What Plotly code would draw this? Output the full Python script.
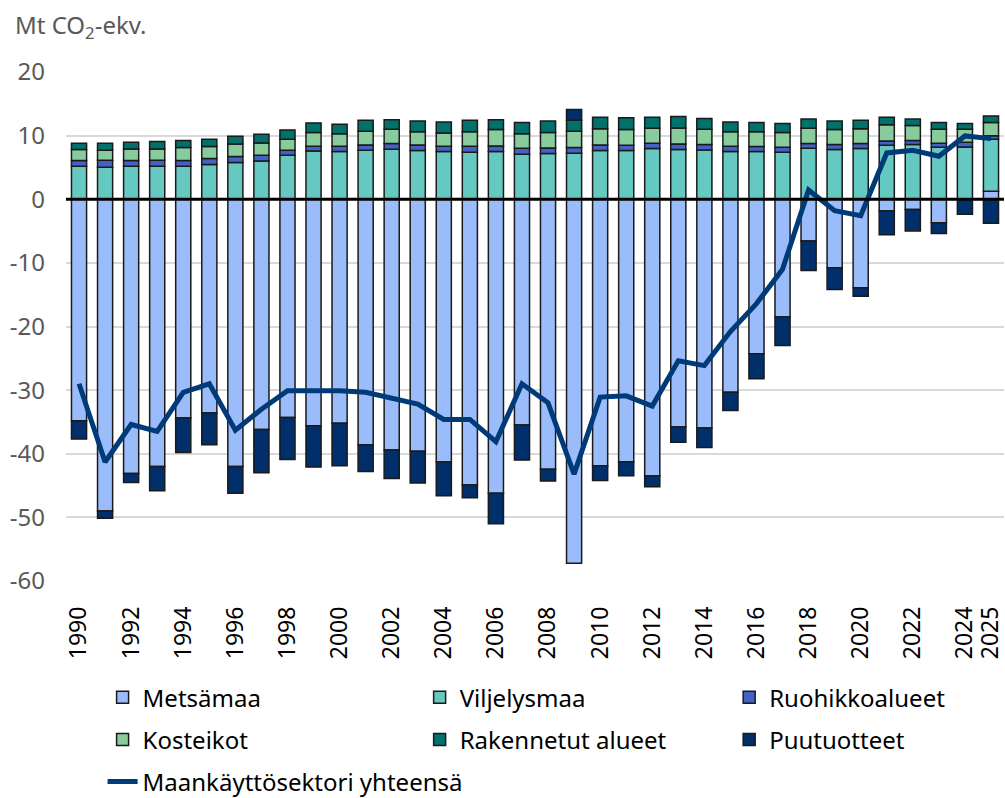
import plotly.graph_objects as go

years = list(range(1990, 2026))

metsamaa = [-34.8, -49.0, -43.1, -42.0, -34.4, -33.6, -42.0, -36.2, -34.3, -35.6,
            -35.2, -38.6, -39.4, -39.6, -41.3, -44.9, -46.2, -35.5, -42.45, -57.2,
            -41.9, -41.25, -43.5, -35.8, -35.95, -30.35, -24.3, -18.5, -6.56, -10.75,
            -13.9, -1.79, -1.63, -3.68, 0.0, 1.26]
viljelysmaa = [5.19, 5.03, 5.19, 5.19, 5.19, 5.45, 5.76, 6.02, 6.91, 7.6,
               7.49, 7.7, 7.86, 7.65, 7.49, 7.39, 7.49, 7.07, 7.18, 7.23,
               7.65, 7.65, 7.96, 7.8, 7.75, 7.49, 7.49, 7.39, 8.0, 7.8,
               7.96, 8.49, 8.59, 8.17, 8.22, 8.17]
ruohikko = [0.89, 1.10, 0.89, 0.94, 0.89, 0.94, 0.94, 0.89, 0.79, 0.73,
            0.84, 0.84, 0.89, 0.89, 0.84, 0.94, 0.89, 0.93, 0.89, 0.89,
            0.89, 0.84, 0.84, 0.90, 0.84, 0.84, 0.79, 0.78, 0.75, 0.79,
            0.79, 0.68, 0.63, 0.63, 0.74, 0.57]
kosteikot = [1.72, 1.57, 1.83, 1.78, 2.04, 1.89, 2.0, 1.94, 1.73, 2.17,
             1.97, 2.16, 2.25, 2.06, 2.07, 2.27, 2.57, 2.3, 2.43, 2.58,
             2.56, 2.46, 2.36, 2.5, 2.41, 2.27, 2.32, 2.33, 2.41, 2.36,
             2.35, 2.53, 2.38, 2.2, 2.04, 2.05]
rakennetut = [1.0, 1.1, 1.05, 1.15, 1.1, 1.15, 1.2, 1.35, 1.47, 1.5,
              1.5, 1.7, 1.5, 1.7, 1.75, 1.8, 1.55, 1.75, 1.8, 1.7,
              1.8, 1.85, 1.74, 1.8, 1.7, 1.55, 1.45, 1.4, 1.44, 1.35,
              1.3, 1.2, 1.0, 1.05, 0.9, 1.05]
puutuotteet = [-2.9, -1.15, -1.4, -3.8, -5.4, -5.0, -4.2, -6.8, -6.6, -6.5,
               -6.7, -4.2, -4.5, -5.0, -5.3, -2.0, -4.8, -5.5, -1.85, 1.7,
               -2.3, -2.2, -1.7, -2.4, -3.05, -2.85, -3.9, -4.5, -4.65, -3.45,
               -1.35, -3.8, -3.35, -1.7, -2.37, -3.78]
yhteensa = [-29.0, -41.3, -35.4, -36.5, -30.35, -29.0, -36.3, -33.0, -30.1, -30.1,
            -30.1, -30.35, -31.2, -32.2, -34.6, -34.6, -38.1, -29.0, -32.0, -43.2,
            -31.1, -30.9, -32.5, -25.4, -26.15, -20.8, -16.4, -11.0, 1.45, -1.79,
            -2.58, 7.28, 7.7, 6.76, 9.95, 9.53]

x_tick_vals = list(range(1990, 2025, 2)) + [2025]
x_tick_text = [str(v) for v in x_tick_vals]
y_tick_vals = [20, 10, 0, -10, -20, -30, -40, -50, -60]
y_tick_text = ["20", "10", "0", "-10", "-20", "-30", "-40", "-50", "-60"]

FONT = "Noto Sans"
outline = dict(color="#1a1a1a", width=1.5)

fig = go.Figure()
bar_specs = [
    ("Metsämaa", metsamaa, "#9bbcfb", "legend"),
    ("Viljelysmaa", viljelysmaa, "#66c9c1", "legend2"),
    ("Ruohikkoalueet", ruohikko, "#4462c6", "legend3"),
    ("Kosteikot", kosteikot, "#88cc9e", "legend"),
    ("Rakennetut alueet", rakennetut, "#00716b", "legend2"),
    ("Puutuotteet", puutuotteet, "#002f6c", "legend3"),
]
for name, vals, col, lg in bar_specs:
    fig.add_trace(go.Bar(x=years, y=vals, name=name, legend=lg, legendgroup=name,
                         marker=dict(color=col, line=outline)))

fig.add_trace(go.Scatter(x=years, y=yhteensa, name="Maankäyttösektori yhteensä",
                         mode="lines", legend="legend", legendgroup="line",
                         line=dict(color="#003a78", width=5)))

legend_common = dict(orientation="v", yref="container", yanchor="top", y=0.154,
                     xanchor="left",
                     font=dict(family=FONT, size=24, color="#000000"),
                     bgcolor="rgba(0,0,0,0)", traceorder="grouped", tracegroupgap=8,
                     itemwidth=30)

fig.update_layout(
    width=1005, height=798,
    margin=dict(l=66, r=1, t=72, b=217),
    paper_bgcolor="white", plot_bgcolor="white",
    barmode="relative", bargap=0.42,
    font=dict(family=FONT, size=24, color="#595959"),
    legend=dict(legend_common, x=0.039),
    legend2=dict(legend_common, x=0.377),
    legend3=dict(legend_common, x=0.707),
    xaxis=dict(range=[1989.5, 2025.5], tickmode="array", tickvals=x_tick_vals,
               ticktext=x_tick_text, tickangle=-90, showgrid=False, zeroline=False,
               ticks="", ticklabelstandoff=20, ticklabeloverflow="allow",
               tickfont=dict(family=FONT, size=23, color="#000000")),
    yaxis=dict(range=[-60, 20], tickmode="array", tickvals=y_tick_vals,
               ticktext=y_tick_text, showgrid=True, gridcolor="#d9d9d9",
               gridwidth=2, zeroline=False, ticks="", ticklabelstandoff=20,
               tickfont=dict(family=FONT, size=24, color="#595959")),
    showlegend=True,
)

fig.add_shape(type="line", xref="paper", yref="y", x0=0, x1=1, y0=0, y1=0,
              line=dict(color="#000000", width=3), layer="above")

fig.add_annotation(text="Mt CO<sub>2</sub>-ekv.", xref="paper", yref="paper",
                   x=-0.057, y=1.09, xanchor="left", yanchor="middle", showarrow=False,
                   font=dict(family=FONT, size=24, color="#595959"))

fig.write_html("out.html", config={"displayModeBar": False},
               post_script="document.body.style.margin='0';document.body.style.overflow='hidden';")
